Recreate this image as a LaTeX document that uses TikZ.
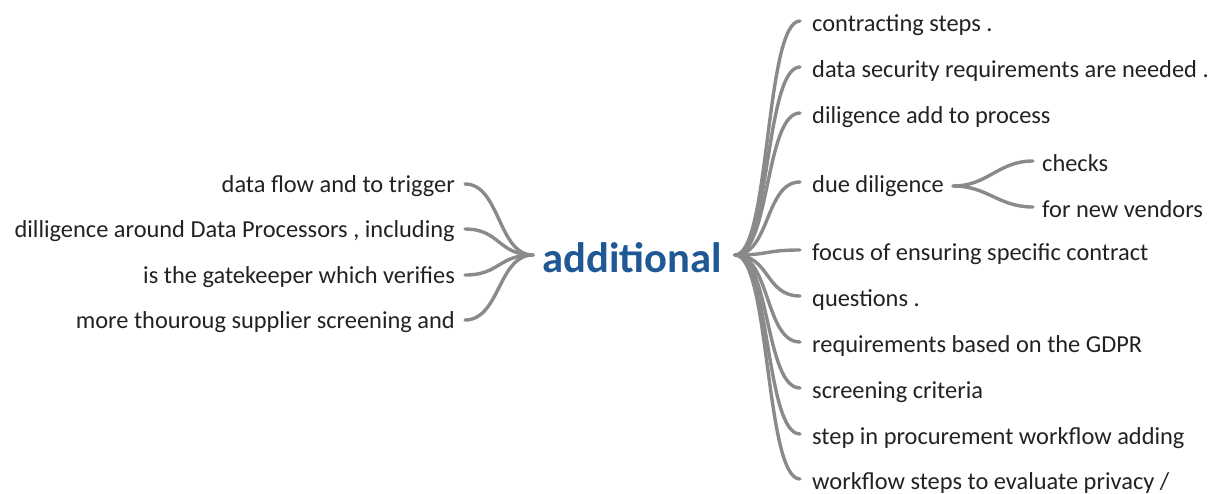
\documentclass[tikz,border=0pt]{standalone}
\usepackage{fontspec}
\setmainfont{Carlito}
\definecolor{linegray}{HTML}{8A8A8A}
\definecolor{rootblue}{HTML}{1F5895}
\definecolor{txt}{HTML}{222222}
\tikzset{
  leaf/.style={inner sep=0pt, text=txt, font=\fontsize{24.4}{28}\selectfont},
  rootnode/.style={inner sep=0pt, text=rootblue, font=\fontsize{42.6}{46}\selectfont\bfseries},
  branch/.style={draw=linegray, line width=3.4pt, line cap=round},
}
\begin{document}
\begin{tikzpicture}[x=1pt,y=1pt]
\useasboundingbox (0,0) rectangle (1218,-493);
\node[rootnode] (root) at (632,-258) {additional};
\coordinate (hubR) at (735,-255);
\coordinate (hubL) at (533,-255);
% right
\node[leaf,anchor=west] (r1) at (812,-25) {contracting steps .};
\node[leaf,anchor=west] (r2) at (812,-71) {data security requirements are needed .};
\node[leaf,anchor=west] (r3) at (812,-117) {diligence add to process};
\node[leaf,anchor=west] (r4) at (812,-186) {due diligence};
\node[leaf,anchor=west] (r5) at (812,-254) {focus of ensuring specific contract};
\node[leaf,anchor=west] (r6) at (812,-300) {questions .};
\node[leaf,anchor=west] (r7) at (812,-346) {requirements based on the GDPR};
\node[leaf,anchor=west] (r8) at (812,-392) {screening criteria};
\node[leaf,anchor=west] (r9) at (812,-438) {step in procurement workflow adding};
\node[leaf,anchor=west] (r10) at (812,-483) {workflow steps to evaluate privacy /};
\node[leaf,anchor=west] (c1) at (1042,-163) {checks};
\node[leaf,anchor=west] (c2) at (1042,-209) {for new vendors};
% left
\node[leaf,anchor=east] (l1) at (455,-186) {data flow and to trigger};
\node[leaf,anchor=east] (l2) at (455,-231) {dilligence around Data Processors , including};
\node[leaf,anchor=east] (l3) at (455,-277) {is the gatekeeper which verifies};
\node[leaf,anchor=east] (l4) at (455,-322) {more thouroug supplier screening and};
% connectors right
\foreach \n in {r1,r2,r3,r4,r5,r6,r7,r8,r9,r10}{
  \draw[branch] (hubR) .. controls +(35,0) and +(-35,0) .. ([xshift=-12pt,yshift=4pt]\n.west);
}
\coordinate (hubD) at ([xshift=9pt]r4.east);
\foreach \n in {c1,c2}{
  \draw[branch] (hubD) .. controls +(35,0) and +(-35,0) .. ([xshift=-9pt,yshift=2pt]\n.west);
}
% connectors left
\foreach \n in {l1,l2,l3,l4}{
  \draw[branch] (hubL) .. controls +(-35,0) and +(35,0) .. ([xshift=10pt,yshift=2pt]\n.east);
}
\end{tikzpicture}
\end{document}
